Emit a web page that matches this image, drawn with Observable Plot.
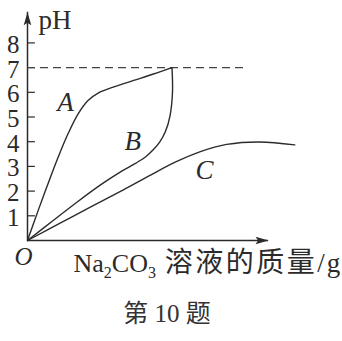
<!DOCTYPE html>
<html><head><meta charset="utf-8">
<script src="https://cdn.jsdelivr.net/npm/d3@7"></script>
<script src="https://cdn.jsdelivr.net/npm/@observablehq/plot@0.6"></script>
<style>
html,body{margin:0;padding:0;background:#fff;}
#chart svg{display:block;}
</style>
</head><body><div id="chart"></div>
<script>
// ---- data (x: Na2CO3 solution mass, arbitrary units; y: pH) ----
const yTicks = [1, 2, 3, 4, 5, 6, 7, 8];
const curveA = [[0,0],[0.43,1.21],[0.83,2.30],[1.24,3.37],[1.64,4.32],[2.05,5.13],[2.45,5.67],[2.86,5.97],[3.5,6.22],[4.3,6.48],[5.1,6.74],[5.85,7.0]];
const curveB = [[0,0],[1,0.78],[2,1.55],[3,2.28],[3.8,2.8],[4.37,3.12],[4.8,3.4],[5.1,3.68],[5.35,3.98],[5.58,4.4],[5.77,5.05],[5.87,6.0],[5.85,7.0]];
const curveC = [[0,0],[1.3,0.69],[2.6,1.38],[3.9,2.06],[5.0,2.66],[6.0,3.18],[7.0,3.6],[8.06,3.89],[9.4,3.99],[10.82,3.87]];
const curveNames = ["A", "B", "C"];
const curveLabelX = [1.54, 4.26, 7.17];
const curveLabelY = [5.59, 4.01, 2.83];
const neutralPH = 7;
const neutralEnd = 8.92;
const yAxisTop = 9.24;
const xAxisEnd = 9.76;
const yLabel = "pH";
const xLabel = "Na2CO3 溶液的质量/g";
const originLabel = "O";
const caption = "第 10 题";

const ink = "#2b2b2b";
const serif = "'Liberation Serif', 'Times New Roman', serif";
const cjk = "'Noto Sans CJK SC', sans-serif";

// custom narrow filled arrow head, tip at origin, pointing up
const arrowHead = {
  draw(ctx) {
    ctx.moveTo(0, 0);
    ctx.lineTo(-3.8, 13);
    ctx.lineTo(0, 10.5);
    ctx.lineTo(3.8, 13);
    ctx.closePath();
  }
};

const labels = curveNames.map((n, i) => ({name: n, x: curveLabelX[i], y: curveLabelY[i]}));

const chart = Plot.plot({
  width: 342,
  height: 341,
  marginLeft: 27,
  marginRight: 18.6,
  marginTop: 17.7,
  marginBottom: 101,
  x: {domain: [0, 12], axis: null},
  y: {domain: [0, 9], axis: null},
  style: {fontFamily: serif, background: "#fff", color: ink},
  marks: [
    // axes
    Plot.ruleX([0], {y1: 0, y2: yAxisTop, stroke: ink, strokeWidth: 1.5}),
    Plot.ruleY([0], {x1: 0, x2: xAxisEnd, stroke: ink, strokeWidth: 1.5}),
    Plot.dot([0], {x: 0, y: yAxisTop, symbol: arrowHead, fill: ink, stroke: "none"}),
    Plot.dot([0], {x: xAxisEnd, y: 0, symbol: arrowHead, rotate: 90, fill: ink, stroke: "none"}),
    // ticks inside
    Plot.ruleY(yTicks, {y: d => d, x1: 0, x2: 0.32, stroke: ink, strokeWidth: 1.2}),
    Plot.text(yTicks, {x: 0, y: d => d, text: d => String(d), textAnchor: "end", dx: -8, dy: 2, fontSize: 25, fill: ink}),
    // dashed pH 7
    Plot.ruleY([neutralPH], {x1: 0, x2: neutralEnd, stroke: "#444", strokeWidth: 1.3, strokeDasharray: "8,5"}),
    // curves
    Plot.line(curveA, {x: d => d[0], y: d => d[1], curve: "catmull-rom", stroke: ink, strokeWidth: 1.4}),
    Plot.line(curveB, {x: d => d[0], y: d => d[1], curve: "catmull-rom", stroke: ink, strokeWidth: 1.4}),
    Plot.line(curveC, {x: d => d[0], y: d => d[1], curve: "catmull-rom", stroke: ink, strokeWidth: 1.4}),
    Plot.text(labels, {x: "x", y: "y", text: "name", fontStyle: "italic", fontSize: 27, fill: ink}),
    // axis labels
    Plot.text([yLabel], {x: 0, y: yAxisTop, text: d => d, textAnchor: "start", dx: 11, dy: 8, fontSize: 27, fill: ink}),
    Plot.text([originLabel], {x: 0, y: 0, text: d => d, fontStyle: "italic", dx: -4, dy: 16, fontSize: 25, fill: ink}),
    Plot.text([xLabel], {x: 0, y: 0, text: d => d, textAnchor: "start", dx: 46, dy: 23, fontSize: 26, fill: ink}),
    // caption
    Plot.text([caption], {frameAnchor: "bottom", text: d => d, dx: -8.7, dy: 81, fontSize: 25, fill: "#333", fontFamily: serif + ", " + cjk})
  ]
});

document.getElementById("chart").appendChild(chart);

// subscripts for the chemical formula
d3.select(chart).selectAll("text").filter(function() { return this.textContent === xLabel; }).each(function() {
  const t = d3.select(this);
  t.text(null);
  t.append("tspan").text("Na");
  t.append("tspan").attr("font-size", 16).attr("dy", 6).text("2");
  t.append("tspan").attr("dy", -6).text("CO");
  t.append("tspan").attr("font-size", 16).attr("dy", 6).text("3");
  t.append("tspan").attr("dy", -6).attr("font-family", cjk).attr("font-size", 28).attr("letter-spacing", 2.5).text(" 溶液的质量");
  t.append("tspan").attr("font-size", 27).attr("letter-spacing", 2).text("/g");
});
</script>
</body></html>
